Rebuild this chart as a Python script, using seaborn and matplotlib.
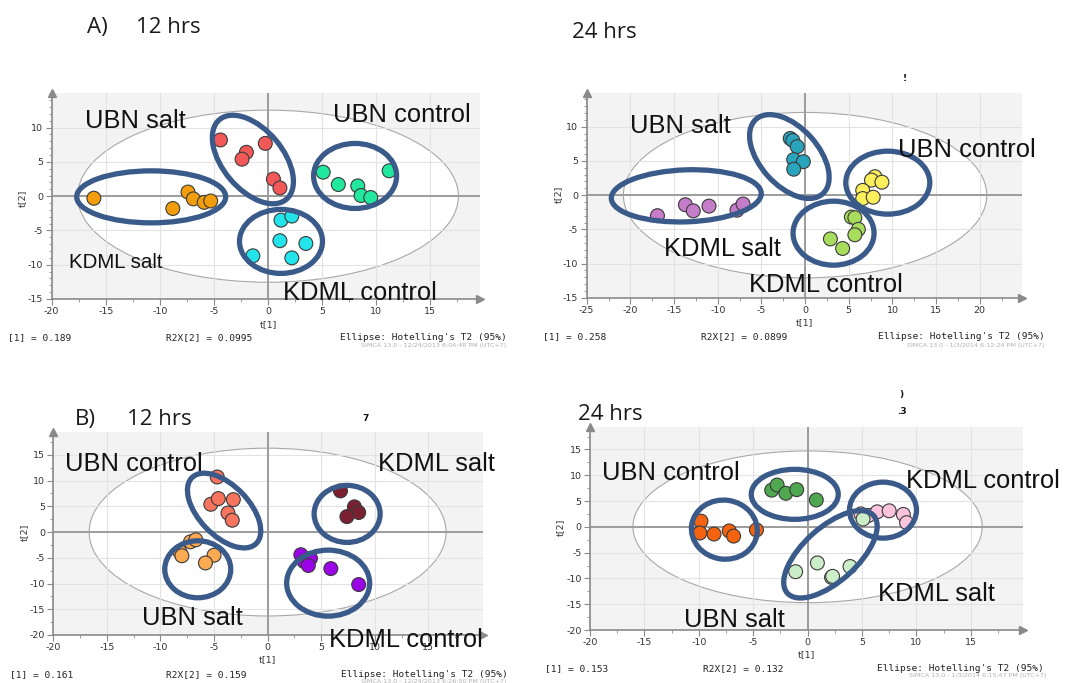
import numpy as np
import pandas as pd
import matplotlib
matplotlib.use("Agg")
import matplotlib.pyplot as plt
from matplotlib.patches import Ellipse
from matplotlib.transforms import ScaledTranslation
from matplotlib.ticker import MultipleLocator
import seaborn as sns

plt.rcParams["axes.unicode_minus"] = False

# ---------------- data (scores) ----------------
# Panel A, 12 hrs
a12_orange_t1 = [-16.1, -8.8, -7.4, -6.9, -5.9, -5.3]
a12_orange_t2 = [-0.3, -1.8, 0.6, -0.4, -0.9, -0.7]
a12_red_t1 = [-4.4, -2.0, -2.4, -0.25, 0.5, 1.1]
a12_red_t2 = [8.2, 6.4, 5.4, 7.7, 2.5, 1.2]
a12_green_t1 = [5.1, 6.5, 8.3, 8.6, 9.5, 11.2]
a12_green_t2 = [3.5, 1.7, 1.5, 0.1, -0.2, 3.7]
a12_cyan_t1 = [1.2, 2.2, 1.1, 3.5, 2.2, -1.4]
a12_cyan_t2 = [-3.5, -2.9, -6.5, -6.9, -9.0, -8.7]

# Panel A, 24 hrs
a24_purple_t1 = [-16.9, -13.7, -12.8, -11.0, -7.8, -7.1]
a24_purple_t2 = [-3.0, -1.4, -2.3, -1.6, -2.2, -1.3]
a24_teal_t1 = [-1.7, -1.4, -0.9, -1.3, -0.2, -1.3]
a24_teal_t2 = [8.3, 8.0, 7.1, 5.2, 4.9, 3.8]
a24_yellow_t1 = [8.0, 7.6, 8.8, 6.6, 6.6, 7.8]
a24_yellow_t2 = [2.7, 2.2, 1.9, 0.7, -0.5, -0.3]
a24_lime_t1 = [5.3, 5.7, 6.1, 5.7, 2.9, 4.3]
a24_lime_t2 = [-3.2, -3.3, -5.0, -5.8, -6.4, -7.8]

# Panel B, 12 hrs
b12_salmon_t1 = [-4.7, -5.3, -4.6, -3.2, -3.7, -3.3]
b12_salmon_t2 = [10.7, 5.4, 6.5, 6.3, 3.7, 2.3]
b12_orange_t1 = [-7.2, -6.7, -8.2, -8.0, -5.0, -5.8]
b12_orange_t2 = [-1.9, -1.5, -3.8, -4.6, -4.5, -6.0]
b12_maroon_t1 = [6.8, 8.1, 8.5, 7.4]
b12_maroon_t2 = [8.0, 4.9, 3.8, 3.0]
b12_violet_t1 = [3.1, 3.4, 4.0, 3.8, 5.9, 8.5]
b12_violet_t2 = [-4.4, -5.7, -5.1, -6.5, -7.1, -10.2]

# Panel B, 24 hrs
b24_orange_t1 = [-9.8, -9.9, -8.6, -7.2, -6.8, -4.7]
b24_orange_t2 = [1.1, -1.2, -1.4, -0.8, -1.8, -0.6]
b24_green_t1 = [-3.3, -2.8, -2.0, -1.0, 0.8]
b24_green_t2 = [7.1, 8.1, 6.5, 7.2, 5.2]
b24_pink_t1 = [4.9, 5.6, 6.4, 7.5, 8.8, 9.1]
b24_pink_t2 = [2.5, 2.2, 2.9, 3.1, 2.4, 0.8]
b24_pale_t1 = [5.1, -1.1, 0.9, 2.2, 2.3, 3.9]
b24_pale_t2 = [1.5, -8.7, -7.0, -9.8, -9.6, -7.7]

r2x_1 = ["0.189", "0.258", "0.161", "0.153"]
r2x_2 = ["0.0995", "0.0899", "0.159", "0.132"]
simca_stamps = ["SIMCA 13.0 - 12/24/2013 6:04:48 PM (UTC+7)",
                "SIMCA 13.0 - 1/3/2014 6:12:24 PM (UTC+7)",
                "SIMCA 13.0 - 12/24/2013 6:26:50 PM (UTC+7)",
                "SIMCA 13.0 - 1/3/2014 6:15:47 PM (UTC+7)"]

# ---------------- figure ----------------
W, H, DPI = 1075, 683, 100
fig = plt.figure(figsize=(W / DPI, H / DPI), dpi=DPI)
fig.patch.set_facecolor("white")

RING = "#3a5a8a"
SANS = "Liberation Sans"


def px_axes(l, r, t, b):
    return fig.add_axes([l / W, 1 - b / H, (r - l) / W, (b - t) / H])


def ftext(x, y, s, **kw):
    fig.text(x / W, 1 - y / H, s, **kw)


def ring(ax, cx, cy, w, h, ang):
    tr = fig.dpi_scale_trans + ScaledTranslation(cx, cy, ax.transData)
    ax.add_patch(Ellipse((0, 0), w / DPI, h / DPI, angle=ang, transform=tr,
                         fill=False, ec=RING, lw=3.8, zorder=8, clip_on=False))


def make_df(groups):
    rows = []
    for name, xs, ys in groups:
        for x, y in zip(xs, ys):
            rows.append({"t1": x, "t2": y, "group": name})
    return pd.DataFrame(rows)


def panel(box, xlim, ylim, xticks, yticks, hot, groups, palette):
    ax = px_axes(*box)
    ax.set_facecolor("#f3f3f3")
    ax.set_xlim(*xlim)
    ax.set_ylim(*ylim)
    # Hotelling T2 ellipse
    ax.add_patch(Ellipse((0, 0), 2 * hot[0], 2 * hot[1], fc="white",
                         ec="#a8a8a8", lw=0.8, zorder=0.5))
    for xv in xticks:
        ax.axvline(xv, color="#e3e3e3", lw=0.8, zorder=0.8)
    for yv in yticks:
        ax.axhline(yv, color="#e3e3e3", lw=0.8, zorder=0.8)
    ax.axhline(0, color="#9c9c9c", lw=1.4, zorder=1)
    ax.axvline(0, color="#9c9c9c", lw=1.4, zorder=1)
    df = make_df(groups)
    sns.scatterplot(data=df, x="t1", y="t2", hue="group", palette=palette,
                    s=100, edgecolor="#3a3a3a", linewidth=0.8, legend=False,
                    ax=ax, zorder=5)
    ax.set_xlabel("")
    ax.set_ylabel("")
    ax.set_xticks(xticks)
    ax.set_yticks(yticks)
    ax.xaxis.set_minor_locator(MultipleLocator(2.5))
    ax.yaxis.set_minor_locator(MultipleLocator(1 if (ylim[1] - ylim[0]) < 35 else 2.5))
    ax.tick_params(axis="both", which="major", labelsize=6.8, labelcolor="#333333",
                   color="#8a8a8a", length=4, width=0.8, pad=2)
    ax.tick_params(axis="both", which="minor", color="#8a8a8a", length=2, width=0.6)
    for side in ("top", "right"):
        ax.spines[side].set_visible(False)
    for side in ("left", "bottom"):
        ax.spines[side].set_color("#8a8a8a")
        ax.spines[side].set_linewidth(1.2)
    ax.plot([xlim[0]], [ylim[1]], marker="^", ms=6, color="#8a8a8a",
            clip_on=False, zorder=9)
    ax.plot([xlim[1]], [ylim[0]], marker=">", ms=6, color="#8a8a8a",
            clip_on=False, zorder=9)
    return ax


# Panel A 12 hrs
ax1 = panel((51.7, 480, 93, 299), (-20, 19.6), (-15, 15.05),
            [-20, -15, -10, -5, 0, 5, 10, 15], [-15, -10, -5, 0, 5, 10],
            (17.6, 12.55),
            [("o", a12_orange_t1, a12_orange_t2), ("r", a12_red_t1, a12_red_t2),
             ("g", a12_green_t1, a12_green_t2), ("c", a12_cyan_t1, a12_cyan_t2)],
            {"o": "#f29e0c", "r": "#f25858", "g": "#22e89e", "c": "#22e4ea"})
ring(ax1, -10.8, -0.1, 149, 52, 0)
ring(ax1, -1.4, 5.35, 104, 60, -50)
ring(ax1, 8.05, 2.95, 83, 65, 0)
ring(ax1, 1.2, -6.6, 83, 64, 0)

# Panel A 24 hrs
ax2 = panel((586.7, 1021.7, 93.3, 297.7), (-25, 24.8), (-15, 14.9),
            [-25, -20, -15, -10, -5, 0, 5, 10, 15, 20], [-15, -10, -5, 0, 5, 10],
            (20.8, 12.1),
            [("p", a24_purple_t1, a24_purple_t2), ("t", a24_teal_t1, a24_teal_t2),
             ("y", a24_yellow_t1, a24_yellow_t2), ("l", a24_lime_t1, a24_lime_t2)],
            {"p": "#c57cc9", "t": "#2aa3bd", "y": "#fdee5c", "l": "#a8dc5c"})
ring(ax2, -13.6, -0.1, 150, 52, 2)
ring(ax2, -1.8, 5.65, 100, 58, -48)
ring(ax2, 9.47, 1.83, 84, 63, 0)
ring(ax2, 3.26, -5.56, 81, 64, 0)

# Panel B 12 hrs
ax3 = panel((53.3, 483, 431.7, 635), (-20, 20.1), (-20, 19.5),
            [-20, -15, -10, -5, 0, 5, 10, 15], [-20, -15, -10, -5, 0, 5, 10, 15],
            (16.65, 16.3),
            [("s", b12_salmon_t1, b12_salmon_t2), ("o", b12_orange_t1, b12_orange_t2),
             ("m", b12_maroon_t1, b12_maroon_t2), ("v", b12_violet_t1, b12_violet_t2)],
            {"s": "#f7745f", "o": "#fcaa52", "m": "#7a2030", "v": "#9a04e6"})
ring(ax3, -4.06, 4.18, 92, 50, -46)
ring(ax3, -6.52, -7.23, 66, 57, 0)
ring(ax3, 7.42, 3.53, 66, 57, 0)
ring(ax3, 5.65, -9.92, 83, 66, 0)

# Panel B 24 hrs
ax4 = panel((590, 1023, 426.7, 630), (-20, 19.8), (-20, 19.4),
            [-20, -15, -10, -5, 0, 5, 10, 15], [-20, -15, -10, -5, 0, 5, 10, 15],
            (16.05, 14.7),
            [("o", b24_orange_t1, b24_orange_t2), ("g", b24_green_t1, b24_green_t2),
             ("k", b24_pink_t1, b24_pink_t2), ("q", b24_pale_t1, b24_pale_t2)],
            {"o": "#f4630f", "g": "#4fa84f", "k": "#fbc3dc", "q": "#cbedc8"})
ring(ax4, -7.65, -0.55, 66, 59, -8)
ring(ax4, -1.18, 6.29, 87, 50, 0)
ring(ax4, 6.93, 3.23, 67, 56, 0)
ring(ax4, 2.1, -5.33, 116, 54, 42)

# ---------------- group labels ----------------
big = dict(fontfamily=SANS, fontsize=18.4, color="#111111", va="baseline", ha="left", zorder=20)
ftext(85, 128, "UBN salt", **big)
ftext(333, 121.7, "UBN control", **big)
ftext(69.3, 268.3, "KDML salt", **{**big, "fontsize": 14.8})
ftext(283, 300, "KDML control", **big)

ftext(630, 132.7, "UBN salt", **big)
ftext(897.7, 156.7, "UBN control", **big)
ftext(664, 255.7, "KDML salt", **big)
ftext(749.3, 292.3, "KDML control", **big)

ftext(65, 471, "UBN control", **big)
ftext(378, 470.7, "KDML salt", **big)
ftext(142.3, 625, "UBN salt", **big)
ftext(329.3, 647.3, "KDML control", **big)

ftext(601.7, 480, "UBN control", **big)
ftext(905.7, 488.3, "KDML control", **big)
ftext(878.3, 601, "KDML salt", **big)
ftext(684.3, 627.3, "UBN salt", **big)

# ---------------- titles ----------------
tt = dict(fontfamily="Open Sans", fontsize=16, color="#1a1a1a", va="baseline", ha="left")
ftext(86.7, 33.3, "A)", **tt)
ftext(136, 33.3, "12 hrs", **tt)
ftext(571.7, 38.3, "24 hrs", **tt)
ftext(75, 425, "B)", **tt)
ftext(126.7, 425, "12 hrs", **tt)
ftext(578.3, 420, "24 hrs", **tt)

# small stray marks
sm = dict(fontfamily="DejaVu Sans", fontsize=6.5, fontweight="bold", color="#111111", va="baseline", ha="left")
ftext(903, 81, "!", **sm)
ftext(362, 421, "7", **sm)
ftext(899, 397, ")", **sm)
ftext(897, 414, ".3", **sm)

# ---------------- axis labels and SIMCA footers ----------------
axl = dict(fontfamily="DejaVu Sans", fontsize=6.8, color="#333333")
for (cx, by) in [(268, 326.7), (804.3, 325), (267.7, 661.7), (806.7, 656.7)]:
    ftext(cx, by, "t[1]", ha="center", va="baseline", **axl)
for (cx, cy) in [(22.7, 198), (558, 194), (24, 532), (560, 527)]:
    ftext(cx, cy, "t[2]", ha="center", va="center", rotation=90, **axl)

mono = dict(fontfamily="DejaVu Sans Mono", fontsize=6.8, color="#222222", va="baseline", ha="left")
foot = [((8.3, 165.7, 340, 361, 340, 346.7)),
        ((543.3, 701, 878, 906.7, 339, 346.7)),
        ((10, 166, 340.7, 361, 676.7, 683)),
        ((545, 703.3, 876.7, 909, 670.7, 676.7))]
for i, (x1, x2, x3, x4, by, sy) in enumerate(foot):
    ftext(x1, by, "[1] = " + r2x_1[i], **mono)
    ftext(x2, by, "R2X[2] = " + r2x_2[i], **mono)
    ftext(x3, by, "Ellipse: Hotelling's T2 (95%)", **mono)
    ftext(x4, sy, simca_stamps[i], fontfamily="DejaVu Sans", fontsize=4.6,
          color="#b0b0b0", va="baseline", ha="left")

fig.savefig("out.png", dpi=DPI, facecolor="white")
